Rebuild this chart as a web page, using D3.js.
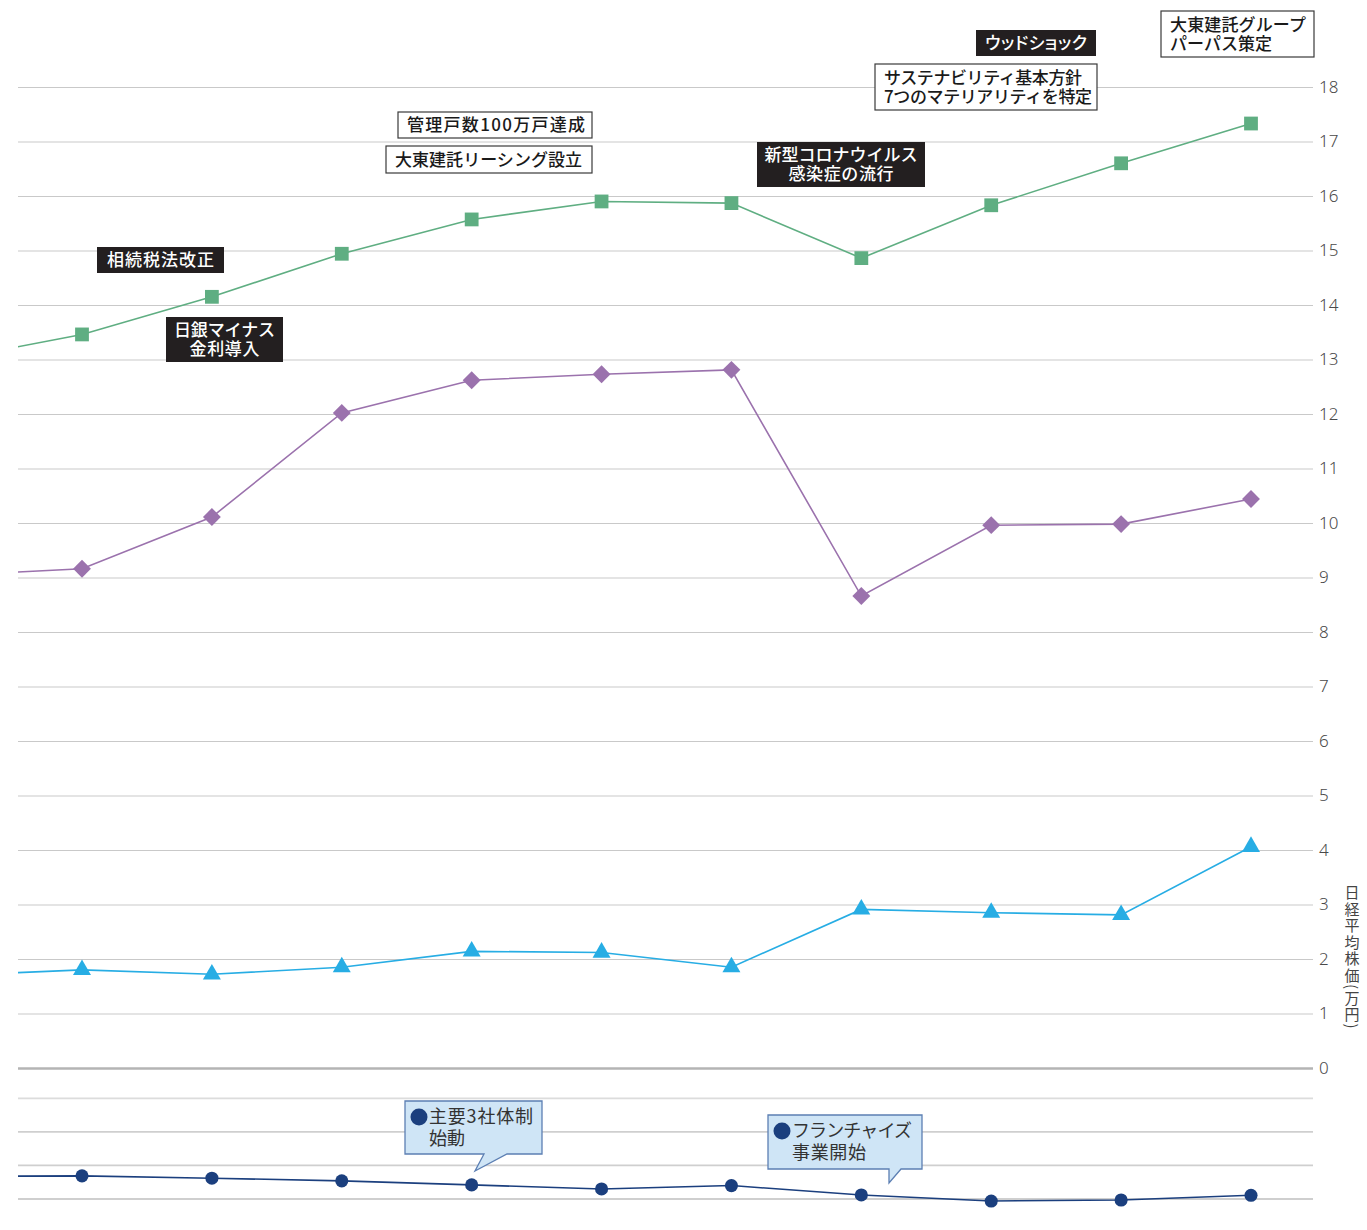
<!DOCTYPE html>
<html>
<head>
<meta charset="utf-8">
<script src="https://cdn.jsdelivr.net/npm/d3@7"></script>
<style>
body { margin: 0; background: #fff; }
text { font-family: "Noto Sans CJK JP", "Noto Sans", sans-serif; }
</style>
</head>
<body>
<div id="chart"></div>
<script>
// fiscal years, first one lies off the left edge
var years = ["2013", "2014", "2015", "2016", "2017", "2018", "2019", "2020", "2021", "2022", "2023"];

// upper panel series
var greenVals  = [13.0, 13.46, 14.15, 14.94, 15.57, 15.90, 15.87, 14.86, 15.83, 16.60, 17.33];
var purpleVals = [9.04, 9.16, 10.11, 12.02, 12.62, 12.73, 12.81, 8.66, 9.96, 9.98, 10.44];
var nikkeiVals = [1.70, 1.80, 1.72, 1.85, 2.14, 2.12, 1.85, 2.91, 2.85, 2.81, 4.06];

// lower panel series (no scale shown)
var navyVals = [1.67, 1.69, 1.62, 1.54, 1.42, 1.30, 1.40, 1.12, 0.94, 0.97, 1.11];

var yTicks = d3.range(0, 19);
var lowTicks = [1, 2, 3, 4];
var yTitle = "日経平均株価(万円)";

// event notes
var notes = [
  ["ウッドショック"],
  ["大東建託グループ", "パーパス策定"],
  ["サステナビリティ基本方針", "7つのマテリアリティを特定"],
  ["管理戸数100万戸達成"],
  ["大東建託リーシング設立"],
  ["新型コロナウイルス", "感染症の流行"],
  ["相続税法改正"],
  ["日銀マイナス", "金利導入"]
];
var callouts = [
  ["主要3社体制", "始動"],
  ["フランチャイズ", "事業開始"]
];

// layout of the notes (pixels); tl = width of each text line
var noteBox = [
  {x: 976, y: 30, w: 120, h: 26, dark: true, align: "middle", tl: [102], palt: true},
  {x: 1161, y: 11, w: 153, h: 46, dark: false, align: "start", tl: [136, 102]},
  {x: 875, y: 64, w: 222, h: 46, dark: false, align: "start", tl: [198, 208]},
  {x: 398, y: 112, w: 194, h: 26, dark: false, align: "start", tl: [178]},
  {x: 386, y: 146, w: 206, h: 27, dark: false, align: "start", tl: [187]},
  {x: 757, y: 142, w: 168, h: 45, dark: true, align: "middle", tl: [153, 105]},
  {x: 97, y: 247, w: 127, h: 26, dark: true, align: "middle", tl: [107]},
  {x: 166, y: 317, w: 117, h: 45, dark: true, align: "middle", tl: [101, 70]}
];
var calloutBox = [
  {x: 405, y: 1101, w: 137, h: 53, tail: [[484, 1154], [475, 1171], [507, 1154]], tl: [104, 36]},
  {x: 768, y: 1115, w: 154, h: 54, tail: [[889, 1169], [889, 1183], [901, 1169]], tl: [120, 74]}
];

var W = 1367, H = 1230;
var left = 18, right = 1313;

var svg = d3.select("#chart")
  .append("svg")
  .attr("width", W)
  .attr("height", H);

// x: index 1 -> 82, index 10 -> 1251
var x = d3.scaleLinear().domain([1, 10]).range([82, 1251]);
var y = d3.scaleLinear().domain([0, 18]).range([1068, 87]);
var yLow = d3.scaleLinear().domain([1, 4]).range([1199, 1098.3]);

svg.append("clipPath").attr("id", "clip")
  .append("rect")
  .attr("x", left).attr("y", 0)
  .attr("width", right - left + 20).attr("height", H);

// grid + right axis
var yAxis = d3.axisRight(y)
  .tickValues(yTicks)
  .tickSize(-(right - left))
  .tickPadding(6);

var gAxis = svg.append("g")
  .attr("transform", "translate(" + right + ",0)")
  .call(yAxis);
gAxis.select(".domain").remove();
gAxis.selectAll(".tick line")
  .attr("stroke", function(d) { return d === 0 ? "#b4b4b4" : "#c9c9c9"; })
  .attr("stroke-width", function(d) { return d === 0 ? 2.4 : 1.2; });
gAxis.selectAll(".tick text")
  .attr("fill", "#4a4a4a")
  .style("font-family", "'Noto Sans', sans-serif")
  .style("font-weight", "300")
  .style("font-size", "17px");

// lower panel grid
svg.append("g")
  .selectAll("line")
  .data(lowTicks)
  .enter()
  .append("line")
  .attr("x1", left).attr("x2", right)
  .attr("y1", function(d) { return yLow(d); })
  .attr("y2", function(d) { return yLow(d); })
  .attr("stroke", function(d) { return d === 4 ? "#dcdcdc" : "#cfcfcf"; })
  .attr("stroke-width", 1.8);

// y title, vertical
svg.append("text")
  .attr("x", 1352)
  .attr("y", 885)
  .style("writing-mode", "vertical-rl")
  .style("font-size", "15px")
  .style("letter-spacing", "1.5px")
  .attr("fill", "#444")
  .text(yTitle);

// series
var series = [
  {vals: greenVals, sc: y, color: "#5fae82", sym: d3.symbolSquare, size: 190, rot: 0},
  {vals: purpleVals, sc: y, color: "#9b72ad", sym: d3.symbolSquare, size: 160, rot: 45},
  {vals: nikkeiVals, sc: y, color: "#27ade4", sym: d3.symbolTriangle, size: 140, rot: 0},
  {vals: navyVals, sc: yLow, color: "#1b3f7e", sym: d3.symbolCircle, size: 135, rot: 0}
];

var plot = svg.append("g").attr("clip-path", "url(#clip)");

series.forEach(function(s) {
  var line = d3.line()
    .x(function(d, i) { return x(i); })
    .y(function(d) { return s.sc(d); });

  plot.append("path")
    .datum(s.vals)
    .attr("fill", "none")
    .attr("stroke", s.color)
    .attr("stroke-width", 1.6)
    .attr("d", line);

  plot.selectAll(null)
    .data(s.vals)
    .enter()
    .append("path")
    .filter(function(d, i) { return i > 0; })
    .attr("d", d3.symbol().type(s.sym).size(s.size))
    .attr("transform", function(d, i) {
      return "translate(" + x(i + 1) + "," + s.sc(d) + ") rotate(" + s.rot + ")";
    })
    .attr("fill", s.color);
});

// event notes
notes.forEach(function(lines, k) {
  var b = noteBox[k];
  var g = svg.append("g");
  g.append("rect")
    .attr("x", b.x).attr("y", b.y)
    .attr("width", b.w).attr("height", b.h)
    .attr("fill", b.dark ? "#231f20" : "#fff")
    .attr("stroke", b.dark ? "none" : "#3a3a3a")
    .attr("stroke-width", 1.2);
  var tx = b.align === "middle" ? b.x + b.w / 2 : b.x + 9;
  var top = b.y + b.h / 2 - (lines.length - 1) * 9.5 + 6;
  var txt = g.append("text")
    .attr("text-anchor", b.align)
    .attr("fill", b.dark ? "#fff" : "#1a1a1a")
    .style("font-size", "17px")
    .style("font-weight", "500")
    .style("font-feature-settings", b.palt ? "'palt'" : "normal");
  lines.forEach(function(t, j) {
    txt.append("tspan")
      .attr("x", tx)
      .attr("y", top + j * 19)
      .attr("textLength", b.tl[j])
      .attr("lengthAdjust", "spacing")
      .text(t);
  });
});

// blue callouts
callouts.forEach(function(lines, k) {
  var b = calloutBox[k];
  var g = svg.append("g");
  var p = b.tail;
  var path = "M" + b.x + "," + b.y + " H" + (b.x + b.w) + " V" + (b.y + b.h) +
    " H" + p[2][0] + " L" + p[1][0] + "," + p[1][1] + " L" + p[0][0] + "," + p[0][1] +
    " H" + b.x + " Z";
  g.append("path")
    .attr("d", path)
    .attr("fill", "#cfe5f6")
    .attr("stroke", "#5c7fb3")
    .attr("stroke-width", 1.3);
  g.append("circle")
    .attr("cx", b.x + 14)
    .attr("cy", b.y + 16)
    .attr("r", 8.5)
    .attr("fill", "#1b3f7e");
  var txt = g.append("text")
    .attr("fill", "#333")
    .style("font-size", "18px");
  lines.forEach(function(t, j) {
    txt.append("tspan")
      .attr("x", b.x + 24)
      .attr("y", b.y + 22 + j * 22)
      .attr("textLength", b.tl[j])
      .attr("lengthAdjust", "spacing")
      .text(t);
  });
});
</script>
</body>
</html>
